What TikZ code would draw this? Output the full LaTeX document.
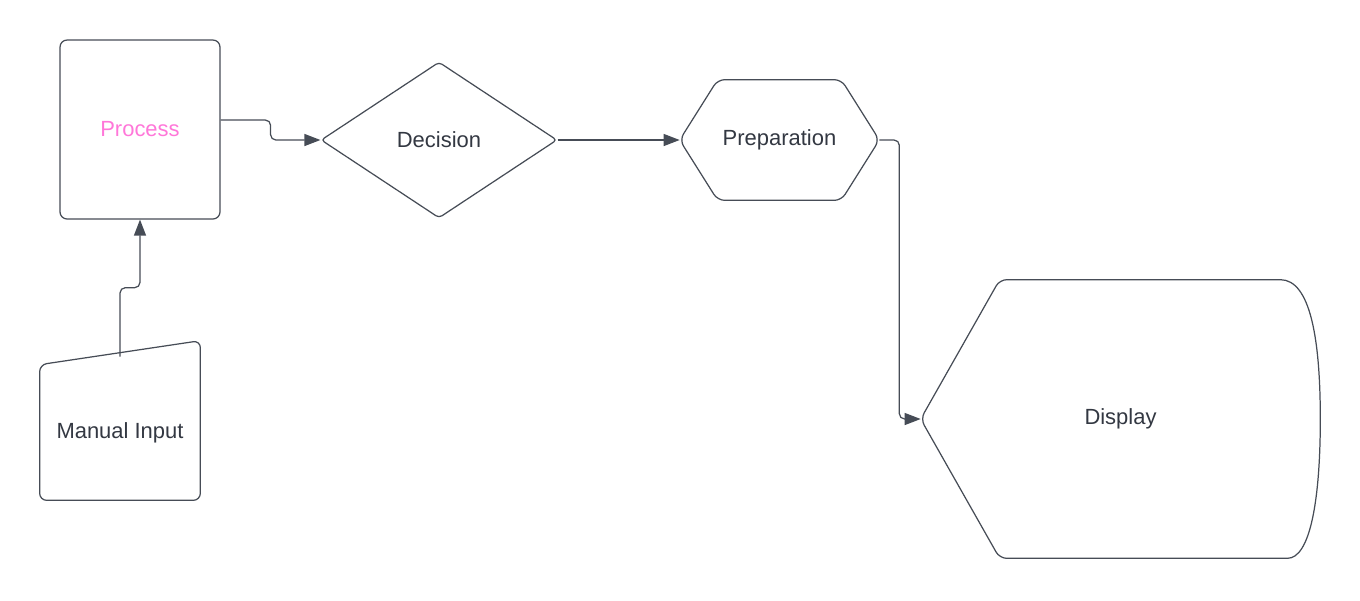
\documentclass[tikz,border=0pt]{standalone}
\usepackage{fontspec}
\setmainfont{Liberation Sans}
\usetikzlibrary{arrows.meta,positioning,shapes.geometric}
\definecolor{ink}{RGB}{70,76,86}
\definecolor{txt}{RGB}{51,56,66}
\definecolor{pink}{RGB}{255,119,217}
\tikzstyle{outline}=[draw=ink, line width=0.7pt, rounded corners=4pt]
\tikzstyle{procbox}=[outline, minimum width=3.2cm, minimum height=3.58cm, text=pink]
\tikzstyle{decbox}=[outline, diamond, inner sep=0pt, minimum width=4.72cm, minimum height=3.12cm, rounded corners=2pt]
\tikzstyle{plain}=[inner sep=0pt]
\tikzstyle{link}=[draw=ink, line width=0.7pt, rounded corners=3pt, ->]

\begin{document}
\begin{tikzpicture}[x=0.02cm,y=-0.02cm,>={Triangle[length=0.32cm,width=0.24cm]},font=\fontsize{12.5}{15}\selectfont,text=txt]
		    \useasboundingbox (0,0) rectangle (1360,600);
		    \node [procbox] (process) at (140,129.5) {Process};
		    \node [decbox] (decision) at (439,140) {Decision};
		    \node [plain, minimum width=3.98cm, minimum height=2.4cm] (prep) at (779.5,140) {Preparation};
		    \node [plain, minimum width=3.2cm, minimum height=2.7cm] (input) at (120,432.5) {Manual Input};
		    \node [plain, minimum width=7.98cm, minimum height=5.56cm] (display) at (1120.5,419) {Display};
		    % outlines of the odd shapes
		    \draw[outline] (prep.west) -- ([xshift=0.76cm]prep.north west) -- ([xshift=-0.76cm]prep.north east)
		      -- (prep.east) -- ([xshift=-0.76cm]prep.south east) -- ([xshift=0.76cm]prep.south west) -- cycle;
		    \draw[outline] (input.north west) -- ([yshift=0.48cm]input.north east) -- (input.south east)
		      -- (input.south west) -- cycle;
		    \draw[outline] ([xshift=-0.8cm]display.south east) [sharp corners]
		      .. controls ([xshift=-0.2cm]display.south east) and ([yshift=-1.6cm]display.east) .. (display.east)
		      .. controls ([yshift=1.6cm]display.east) and ([xshift=-0.2cm]display.north east) .. ([xshift=-0.8cm]display.north east)
		      [rounded corners=4pt] -- ([xshift=1.58cm]display.north west) -- (display.west)
		      -- ([xshift=1.58cm]display.south west) -- cycle;
		    % connectors
		    \draw[link] ([yshift=0.19cm]process.east) -- ++(1cm,0) |- (decision.west);
		    \draw[link] ([yshift=0.16cm]input.north) -- ++(0,1.38cm) -| (process.south);
		    \draw[link] (decision.east) -- (prep.west);
		    \draw[link] (prep.east) -- ++(0.4cm,0) |- (display.west);
		\end{tikzpicture}
\end{document}
